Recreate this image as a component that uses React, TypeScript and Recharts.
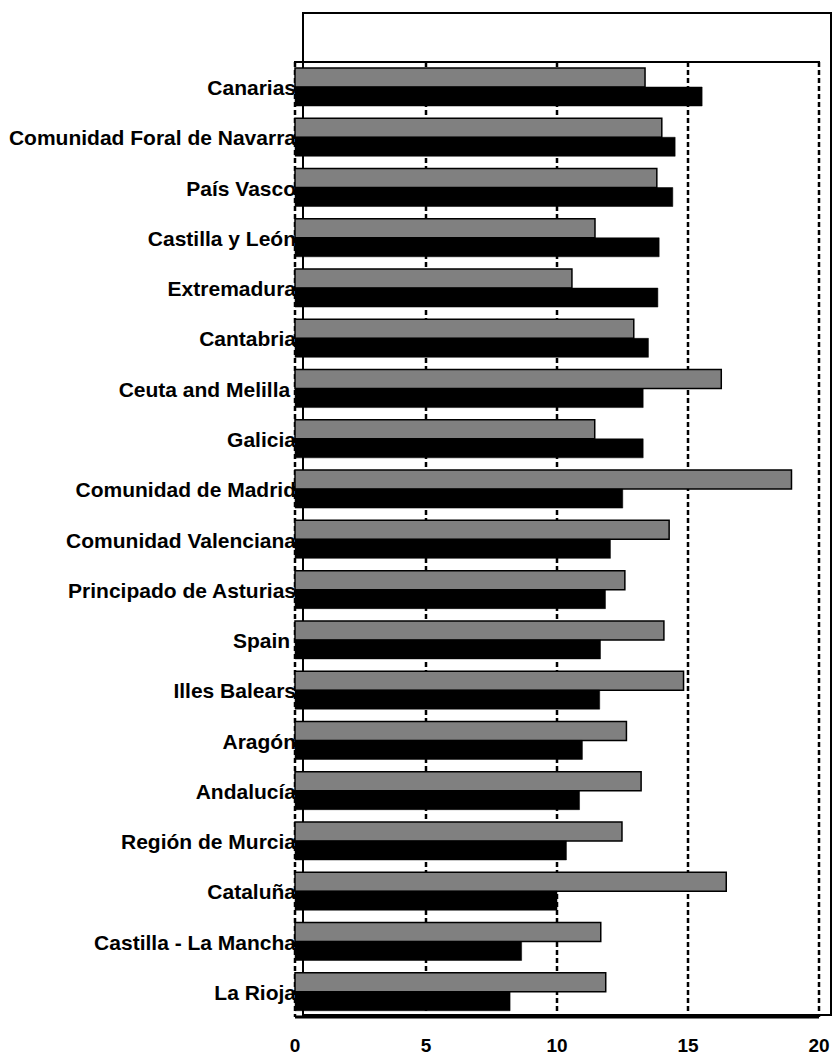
import React from 'react';
import { BarChart, Bar, XAxis, YAxis, CartesianGrid } from 'recharts';

const categories = [
  'Canarias',
  'Comunidad Foral de Navarra',
  'País Vasco',
  'Castilla y León',
  'Extremadura',
  'Cantabria',
  'Ceuta and Melilla ',
  'Galicia',
  'Comunidad de Madrid',
  'Comunidad Valenciana',
  'Principado de Asturias',
  'Spain ',
  'Illes Balears',
  'Aragón',
  'Andalucía',
  'Región de Murcia',
  'Cataluña',
  'Castilla - La Mancha',
  'La Rioja',
];

const greySeries = [13.36, 14.0, 13.81, 11.45, 10.57, 12.93, 16.27, 11.44, 18.95, 14.28, 12.59, 14.08, 14.83, 12.65, 13.21, 12.48, 16.46, 11.67, 11.86];
const blackSeries = [15.54, 14.51, 14.42, 13.9, 13.85, 13.49, 13.29, 13.29, 12.51, 12.04, 11.85, 11.66, 11.63, 10.97, 10.86, 10.36, 10.0, 8.65, 8.21];

const xTicks = [0, 5, 10, 15, 20];

const data = categories.map((name, i) => ({ name, grey: greySeries[i], black: blackSeries[i] }));

const FONT = '"Liberation Sans", Arial, Helvetica, sans-serif';

const YTick = (props: any) => {
  const { x, y, payload, index } = props;
  const id = `yclip-${index}`;
  return (
    <g>
      <clipPath id={id}>
        <rect x={0} y={y - 30} width={x} height={60} />
      </clipPath>
      <text
        x={x + 1}
        y={y + 8}
        textAnchor="end"
        fontFamily={FONT}
        fontWeight="bold"
        fontSize={21}
        fill="#000"
        style={{ whiteSpace: 'pre' }}
        clipPath={`url(#${id})`}
      >
        {payload.value}
      </text>
    </g>
  );
};

const XTick = (props: any) => {
  const { x, y, payload } = props;
  return (
    <text x={x} y={y + 33} textAnchor="middle" fontFamily={FONT} fontWeight="bold" fontSize={19} fill="#000">
      {payload.value}
    </text>
  );
};

export default function App() {
  return (
    <div style={{ position: 'absolute', left: 0, top: 0, width: 833, height: 1055, background: '#fff' }}>
      <div
        style={{
          position: 'absolute',
          left: 302,
          top: 12,
          width: 530,
          height: 1004,
          border: '2px solid #000',
          boxSizing: 'border-box',
        }}
      />
      <div style={{ position: 'absolute', left: 0, top: 0 }}>
        <BarChart
          width={833}
          height={1055}
          data={data}
          layout="vertical"
          margin={{ top: 62, right: 14, bottom: 0, left: 0 }}
          barGap={0}
          barSize={19}
        >
          <CartesianGrid horizontal={false} vertical stroke="#000" strokeWidth={2.5} strokeDasharray="5 3" />
          <XAxis
            type="number"
            domain={[0, 20]}
            ticks={xTicks}
            interval={0}
            height={38}
            tickLine={false}
            tickSize={0}
            axisLine={{ stroke: '#000', strokeWidth: 3 }}
            tick={<XTick />}
          />
          <YAxis
            type="category"
            dataKey="name"
            width={295}
            interval={0}
            axisLine={false}
            tickLine={false}
            tickSize={0}
            tickMargin={0}
            tick={<YTick />}
          />
          <Bar dataKey="grey" fill="#808080" stroke="#000" strokeWidth={1.5} isAnimationActive={false} />
          <Bar dataKey="black" fill="#000" stroke="#000" strokeWidth={0.5} isAnimationActive={false} />
        </BarChart>
      </div>
      <div style={{ position: 'absolute', left: 294, top: 61, width: 526, height: 2, background: '#000', zIndex: 5 }} />
    </div>
  );
}
